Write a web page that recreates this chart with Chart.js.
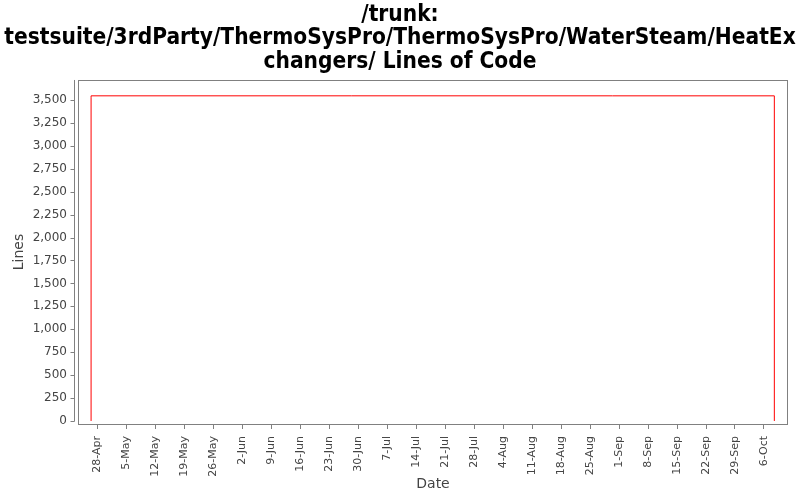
<!DOCTYPE html>
<html>
<head>
<meta charset="utf-8">
<script src="https://cdn.jsdelivr.net/npm/chart.js@4/dist/chart.umd.min.js"></script>
<style>
  html, body { margin: 0; padding: 0; background: #fff; }
  #wrap { width: 800px; height: 500px; }
</style>
</head>
<body>
<div id="wrap"><canvas id="locChart" width="800" height="500"></canvas></div>
<script>
// days counted from 28-Apr
const tickLabels = ['28-Apr', '5-May', '12-May', '19-May', '26-May', '2-Jun', '9-Jun', '16-Jun',
    '23-Jun', '30-Jun', '7-Jul', '14-Jul', '21-Jul', '28-Jul', '4-Aug', '11-Aug', '18-Aug',
    '25-Aug', '1-Sep', '8-Sep', '15-Sep', '22-Sep', '29-Sep', '6-Oct'];
const yTickValues = [0, 250, 500, 750, 1000, 1250, 1500, 1750, 2000, 2250, 2500, 2750, 3000, 3250, 3500];
const dayOffsets = [-1.5, -1.5, 124.4, 163.5, 163.5];
const lineCounts = [0, 3530, 3545, 3545, 0];

const titleLines = ['/trunk:',
    'testsuite/3rdParty/ThermoSysPro/ThermoSysPro/WaterSteam/HeatEx',
    'changers/ Lines of Code'];

const points = dayOffsets.map((d, i) => ({ x: d, y: lineCounts[i] }));
const textColor = '#444444';
const frameColor = '#808080';

// frame around the plot + offset y axis like the original
const framePlugin = {
    id: 'frame',
    afterDraw(chart) {
        const { ctx, chartArea: a, scales } = chart;
        const y = scales.y;
        ctx.save();
        ctx.strokeStyle = frameColor;
        ctx.lineWidth = 1;
        ctx.strokeRect(Math.round(a.left) + 0.5, Math.round(a.top) + 0.5,
            Math.round(a.right - a.left) - 1, Math.round(a.bottom - a.top));
        const ax = Math.round(a.left) - 4 + 0.5;
        ctx.beginPath();
        ctx.moveTo(ax, a.top);
        ctx.lineTo(ax, Math.round(y.getPixelForValue(0)) + 0.5);
        y.ticks.forEach(t => {
            const py = Math.round(y.getPixelForValue(t.value)) + 0.5;
            ctx.moveTo(ax - 4, py);
            ctx.lineTo(ax, py);
        });
        ctx.stroke();
        ctx.restore();
    }
};

new Chart(document.getElementById('locChart').getContext('2d'), {
    type: 'line',
    data: {
        datasets: [{
            label: 'Lines',
            data: points,
            stepped: 'after',
            borderColor: '#ff0000',
            borderWidth: 1,
            pointRadius: 0,
            fill: false
        }]
    },
    options: {
        responsive: false,
        animation: false,
        layout: { padding: 0 },
        plugins: {
            legend: { display: false },
            tooltip: { enabled: false },
            title: {
                display: true,
                text: titleLines,
                color: '#000000',
                font: { family: "'DejaVu Sans'", size: 22.5, weight: 'bold condensed', lineHeight: 1.044 },
                padding: { top: 3, bottom: 6.5 }
            }
        },
        scales: {
            x: {
                type: 'linear',
                min: -4.66,
                max: 166.8,
                afterBuildTicks(scale) {
                    scale.ticks = tickLabels.map((l, i) => ({ value: i * 7 }));
                },
                afterFit(scale) { scale.height = 76; },
                ticks: {
                    autoSkip: false,
                    maxRotation: 90,
                    minRotation: 90,
                    padding: 7,
                    color: textColor,
                    font: { family: 'DejaVu Sans', size: 11 },
                    callback: (v) => tickLabels[Math.round(v / 7)]
                },
                grid: { display: true, drawOnChartArea: false, tickLength: 5, color: frameColor },
                border: { display: false },
                title: {
                    display: true, text: 'Date', color: textColor,
                    font: { family: 'DejaVu Sans', size: 14 },
                    padding: { top: 0, bottom: 7 }
                }
            },
            y: {
                min: -33,
                max: 3718,
                afterBuildTicks(scale) {
                    scale.ticks = yTickValues.map(v => ({ value: v }));
                },
                afterFit(scale) { scale.width = 78; },
                ticks: {
                    autoSkip: false,
                    padding: 11,
                    color: textColor,
                    font: { family: 'DejaVu Sans', size: 12 },
                    callback: (v) => v.toLocaleString('en-US')
                },
                grid: { display: true, drawOnChartArea: false, drawTicks: false },
                border: { display: false },
                title: {
                    display: true, text: 'Lines', color: textColor,
                    font: { family: 'DejaVu Sans', size: 14 },
                    padding: { top: 11, bottom: 0 }
                }
            },
            // empty right-hand gutter so the title stays centred on the page
            gutter: {
                position: 'right',
                display: true,
                ticks: { display: false },
                grid: { display: false },
                border: { display: false },
                afterFit(scale) { scale.width = 12; }
            }
        }
    },
    plugins: [framePlugin]
});
</script>
</body>
</html>
